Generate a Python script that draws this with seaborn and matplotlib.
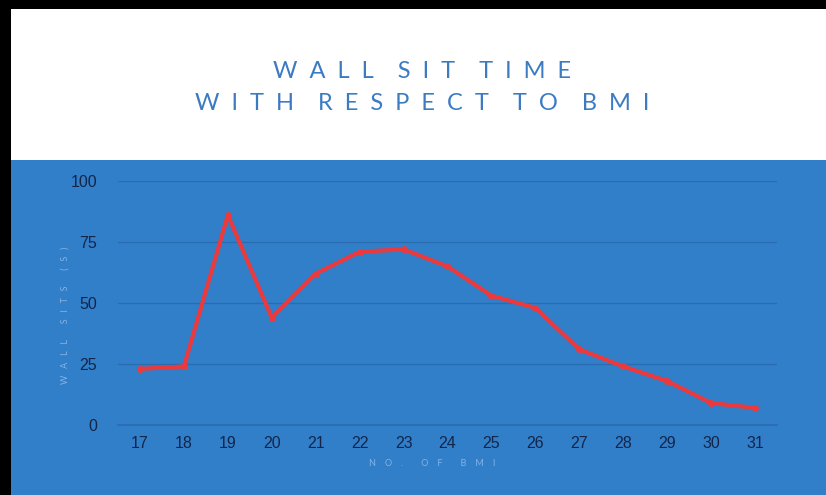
import numpy as np
import pandas as pd
import matplotlib
matplotlib.use("Agg")
import matplotlib.pyplot as plt
import seaborn as sns
from matplotlib.patches import Rectangle

# values
bmi = [17, 18, 19, 20, 21, 22, 23, 24, 25, 26, 27, 28, 29, 30, 31]
wall_sits = [23, 24, 86, 44, 62, 71, 72, 65, 53, 48, 31, 24, 18, 9, 7]
y_ticks = [0, 25, 50, 75, 100]

title_lines = ["WALL SIT TIME", "WITH RESPECT TO BMI"]
x_label = "NO. OF BMI"
y_label = "WALL SITS (S)"

BLUE = "#317ec9"
GRID = "#2a6cb2"
RED = "#ea3a3e"
TICK = "#13264a"
TITLE = "#3b7bc3"
FAINT = "#86b4e4"


def spaced(s, gap=" ", word_gap="   "):
    # spread the letters out like the original artwork
    return word_gap.join(gap.join(w) for w in s.split(" "))


sns.set_style("white")
plt.rcParams["font.family"] = ["Liberation Sans", "DejaVu Sans"]

fig = plt.figure(figsize=(8.26, 4.95), dpi=100)
fig.patch.set_facecolor("white")

# blue panel and black frame, kept behind the axes
fig.patches.append(Rectangle((0, 0), 1, 335 / 495, transform=fig.transFigure,
                             facecolor=BLUE, edgecolor="none", zorder=-3))
fig.patches.append(Rectangle((0, 0), 11 / 826, 1, transform=fig.transFigure,
                             facecolor="black", edgecolor="none", zorder=-2))
fig.patches.append(Rectangle((0, 1 - 9 / 495), 1, 9 / 495, transform=fig.transFigure,
                             facecolor="black", edgecolor="none", zorder=-2))

ax = fig.add_axes([118 / 826, 70 / 495, 659 / 826, 244 / 495])
ax.set_facecolor("none")

df = pd.DataFrame({"BMI": bmi, "Wall sits": wall_sits})
sns.lineplot(data=df, x="BMI", y="Wall sits", ax=ax, color=RED, linewidth=3,
             marker="o", markersize=5, markeredgewidth=0)

ax.set_xlim(16.5, 31.5)
ax.set_ylim(0, 100)
ax.set_xticks(bmi)
ax.set_yticks(y_ticks)
ax.grid(axis="y", color=GRID, linewidth=0.9)
ax.grid(axis="x", visible=False)
for side in ["top", "right", "left"]:
    ax.spines[side].set_visible(False)
ax.spines["bottom"].set_color(GRID)
ax.spines["bottom"].set_linewidth(1.2)
ax.tick_params(axis="both", length=0, labelsize=11.5, labelcolor=TICK)
ax.tick_params(axis="y", pad=15)
ax.tick_params(axis="x", pad=8)
ax.set_xlabel("")
ax.set_ylabel("")

fig.text(432 / 826, 1 - 463 / 495, spaced(x_label, "    ", "        "), ha="center",
         va="center", fontsize=6.5, color=FAINT, family=["Lato", "DejaVu Sans"])
fig.text(65 / 826, 1 - 315 / 495, spaced(y_label, "   ", "       "), ha="center",
         va="center", rotation=90, fontsize=6.5, color=FAINT,
         family=["Lato", "DejaVu Sans"])

for line, y_px in zip(title_lines, [71, 103]):
    fig.text(422 / 826, 1 - y_px / 495, spaced(line, "  ", "    "), ha="center",
             va="center", fontsize=17, color=TITLE,
             family=["Lato", "DejaVu Sans"])

fig.savefig("out.png", dpi=100, facecolor=fig.get_facecolor())
